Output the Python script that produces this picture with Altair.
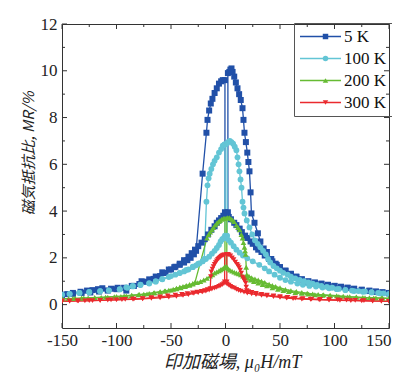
import altair as alt
import pandas as pd

TEMPS = ["5 K", "100 K", "200 K", "300 K"]
COLORS = ["#2150a8", "#63c5d5", "#66bb33", "#ea2a2e"]
SHAPES = ["square", "circle", "triangle-up", "triangle-down"]
MARKER_SIZES = [36, 30, 13, 13]

X_MAJOR = [-150, -100, -50, 0, 50, 100, 150]
X_MINOR = [-125, -75, -25, 25, 75, 125]
Y_MAJOR = [0, 2, 4, 6, 8, 10, 12]
Y_MINOR = [1, 3, 5, 7, 9, 11]

# (H [mT], MR [%]) pairs, sweep from -150 to +150
UP_5K = [(-150,0.42),(-145,0.45),(-140,0.5),(-133,0.55),(-127,0.6),(-122,0.62),(-117,0.66),(-113,0.7),(-105,0.68),(-99,0.72),(-91,0.6),(-84,0.8),(-77,1.0),(-70,1.08),(-64,1.2),(-58,1.38),(-52,1.5),(-47,1.6),(-42,1.7),(-38,1.8),(-35,1.9),(-32,2.0),(-29,2.15),(-27,2.3),(-21,5.6),(-17.5,7.35),(-16.5,7.9),(-15,8.3),(-13.5,8.6),(-12,8.8),(-10,9.05),(-8,9.25),(-6,9.45),(-4,9.55),(-2.5,9.6),(-0.5,9.6),(-0.5,3.95),(1,3.85),(3,3.75),(5,3.65),(8,3.5),(10,3.4),(13,3.25),(15,3.1),(18,2.95),(20,2.85),(23,2.7),(25,2.6),(28,2.45),(30,2.35),(33,2.25),(36,2.1),(40,1.95),(43,1.85),(47,1.7),(50,1.6),(55,1.45),(60,1.3),(65,1.18),(70,1.08),(76,0.98),(82,0.92),(88,0.88),(94,0.84),(100,0.8),(106,0.76),(112,0.72),(118,0.67),(125,0.62),(132,0.58),(138,0.55),(144,0.52),(150,0.48)]
# sweep from +150 to -150
DOWN_5K = [(150,0.5),(144,0.53),(138,0.56),(132,0.6),(125,0.64),(118,0.68),(112,0.72),(106,0.76),(100,0.8),(94,0.85),(88,0.9),(82,0.95),(76,1.0),(70,1.08),(65,1.2),(60,1.32),(55,1.45),(50,1.6),(46,1.75),(42,1.95),(38,2.25),(35,2.4),(32,2.7),(29.7,3.05),(26.6,3.5),(23.8,3.9),(23,4.8),(22,5.7),(21,6.1),(20,6.5),(18.7,6.95),(17.4,7.35),(16.5,7.9),(15.6,8.4),(14,8.75),(12.5,9.0),(11,9.25),(9.5,9.5),(8,9.75),(6.5,9.95),(5.5,10.1),(4.5,10.05),(3.5,9.95),(2.2,9.9),(2.2,3.95),(0,3.9),(-2,3.8),(-4,3.7),(-6,3.6),(-8,3.5),(-10,3.35),(-13,3.2),(-16,3.0),(-19,2.8),(-22,2.65),(-25,2.5),(-28,2.35),(-31,2.2),(-34,2.05),(-38,1.9),(-42,1.75),(-46,1.62),(-50,1.5),(-55,1.35),(-60,1.22),(-66,1.1),(-72,0.98),(-79,0.88),(-86,0.8),(-93,0.72),(-100,0.66),(-108,0.6),(-116,0.56),(-124,0.52),(-132,0.5),(-140,0.46),(-150,0.42)]

UP_100K = [(-150,0.42),(-143,0.45),(-134,0.5),(-125,0.53),(-115,0.57),(-107,0.6),(-97,0.65),(-90,0.72),(-85,0.78),(-78,0.84),(-70,0.9),(-64,0.98),(-58,1.08),(-52,1.18),(-46,1.28),(-42,1.35),(-38,1.42),(-34,1.5),(-30,1.6),(-27,1.68),(-24,1.76),(-21,1.85),(-19.5,1.95),(-17.5,4.4),(-16.5,5.1),(-15.5,5.4),(-14.5,5.6),(-13,5.8),(-11.5,6.0),(-10,6.15),(-8,6.3),(-6,6.5),(-4,6.65),(-2.5,6.8),(-1,6.85),(-0.5,6.85),(-0.5,2.95),(1,2.85),(3,2.75),(5,2.65),(7.5,2.5),(10,2.35),(13,2.22),(16,2.1),(20,1.98),(25,1.85),(31,1.7),(36,1.55),(40,1.42),(45,1.28),(50,1.15),(55,1.05),(60,0.98),(66,0.9),(71,0.85),(77,0.8),(83,0.77),(89,0.73),(95,0.7),(102,0.66),(110,0.62),(118,0.58),(126,0.55),(134,0.52),(142,0.48),(150,0.45)]
DOWN_100K = [(150,0.45),(145,0.48),(140,0.5),(134,0.53),(128,0.56),(122,0.58),(116,0.6),(110,0.63),(104,0.67),(98,0.72),(93,0.76),(88,0.8),(84,0.84),(80,0.9),(76,0.95),(72,1.0),(68,1.06),(64,1.12),(60,1.2),(57,1.28),(53,1.36),(50,1.45),(47,1.55),(44,1.65),(41,1.8),(39,1.95),(37,2.15),(34.5,2.3),(32,2.45),(29.5,2.6),(27,2.75),(24.5,3.0),(22,3.3),(19.5,3.6),(17.4,3.9),(16.5,4.15),(15.6,4.4),(14.7,5.0),(13.8,5.35),(12.8,5.7),(12,6.0),(11,6.3),(10,6.6),(8.5,6.75),(7,6.88),(5.5,6.95),(4,7.0),(2.8,6.97),(1.5,6.9),(1.5,2.95),(0,2.9),(-1.5,2.85),(-3,2.8),(-4.5,2.7),(-6,2.55),(-8,2.42),(-10,2.3),(-12.5,2.18),(-15,2.05),(-18,1.95),(-21,1.85),(-25,1.75),(-30,1.62),(-36,1.48),(-42,1.36),(-50,1.22),(-58,1.1),(-64,1.0),(-70,0.92),(-78,0.85),(-85,0.8),(-91,0.74),(-97,0.66),(-107,0.61),(-115,0.58),(-125,0.54),(-134,0.5),(-143,0.46),(-150,0.43)]

UP_200K = [(-150,0.25),(-144,0.26),(-138,0.27),(-132,0.28),(-126,0.29),(-120,0.3),(-114,0.31),(-108,0.32),(-102,0.34),(-96,0.35),(-91,0.37),(-86,0.39),(-80,0.42),(-75,0.45),(-70,0.48),(-65,0.51),(-60,0.55),(-56,0.58),(-52,0.62),(-48,0.66),(-45,0.7),(-42,0.74),(-39,0.78),(-36,0.82),(-33,0.86),(-30,0.9),(-28,0.95),(-17,2.85),(-15.5,3.0),(-14,3.1),(-12.5,3.2),(-11,3.3),(-9.5,3.4),(-8,3.48),(-6.5,3.55),(-5,3.6),(-3.5,3.65),(-2,3.68),(-0.5,3.7),(-0.5,1.62),(1,1.58),(2.5,1.53),(4,1.48),(6,1.43),(8,1.39),(10,1.35),(12,1.32),(14,1.28),(16,1.22),(18,1.17),(20,1.12),(23,1.05),(26,0.99),(30,0.92),(34,0.86),(38,0.8),(43,0.72),(48,0.66),(53,0.6),(58,0.56),(64,0.52),(70,0.48),(76,0.45),(82,0.42),(89,0.4),(96,0.38),(104,0.35),(112,0.33),(120,0.31),(128,0.3),(136,0.29),(143,0.28),(150,0.27)]
DOWN_200K = [(150,0.27),(144,0.28),(138,0.29),(132,0.3),(126,0.31),(120,0.33),(114,0.34),(108,0.36),(102,0.38),(96,0.4),(90,0.42),(85,0.44),(80,0.46),(75,0.49),(70,0.52),(65,0.56),(60,0.6),(55,0.65),(50,0.72),(46,0.78),(43,0.82),(40,0.87),(36,0.95),(33,1.0),(30,1.05),(27,1.1),(24,1.15),(21.5,1.22),(19.5,1.28),(19,1.6),(18.5,2.15),(18,2.3),(17.4,2.45),(16.5,2.65),(15.6,2.85),(14.5,3.0),(13,3.2),(11.5,3.3),(10,3.4),(8,3.55),(6.5,3.62),(5,3.67),(3.5,3.72),(2,3.72),(1.2,3.7),(1.2,1.62),(0,1.6),(-1.5,1.57),(-3,1.53),(-4.5,1.49),(-6,1.45),(-8,1.4),(-10,1.35),(-12,1.28),(-14,1.22),(-17,1.12),(-20,1.05),(-23,0.99),(-26,0.94),(-30,0.88),(-33,0.83),(-37,0.77),(-41,0.72),(-45,0.68),(-50,0.62),(-55,0.58),(-60,0.54),(-66,0.5),(-72,0.46),(-79,0.43),(-86,0.4),(-93,0.37),(-100,0.35),(-110,0.32),(-120,0.3),(-130,0.28),(-140,0.26),(-150,0.25)]

UP_300K = [(-150,0.15),(-143,0.15),(-136,0.16),(-129,0.16),(-122,0.17),(-115,0.18),(-108,0.19),(-100,0.2),(-92,0.22),(-84,0.24),(-76,0.26),(-68,0.3),(-60,0.33),(-53,0.37),(-46,0.41),(-40,0.44),(-35,0.47),(-30,0.5),(-26,0.53),(-22,0.57),(-19,0.6),(-16.5,0.64),(-14,0.68),(-13.5,1.2),(-13,1.4),(-12,1.52),(-11,1.62),(-10,1.72),(-9,1.8),(-8,1.87),(-7,1.93),(-6,1.98),(-5,2.02),(-4,2.06),(-3,2.1),(-2,2.12),(-0.8,2.13),(-0.8,0.97),(0.5,0.93),(1.5,0.88),(3,0.83),(4.5,0.78),(6,0.74),(8,0.7),(10,0.65),(12,0.61),(14,0.58),(17,0.53),(20,0.49),(24,0.46),(28,0.43),(33,0.4),(38,0.37),(44,0.34),(50,0.31),(56,0.28),(62,0.26),(70,0.24),(78,0.22),(86,0.2),(95,0.19),(105,0.18),(115,0.17),(125,0.16),(135,0.15),(143,0.15),(150,0.14)]
DOWN_300K = [(150,0.14),(143,0.15),(135,0.16),(127,0.17),(119,0.18),(111,0.19),(103,0.2),(95,0.21),(87,0.22),(79,0.24),(71,0.26),(64,0.28),(57,0.31),(50,0.34),(44,0.37),(38,0.41),(33,0.44),(28,0.48),(24,0.52),(21,0.56),(19.5,0.6),(19,0.75),(18.5,0.92),(17.4,1.02),(16.5,1.1),(15.6,1.18),(14.5,1.35),(13.5,1.48),(12.5,1.58),(11.5,1.66),(10.5,1.72),(9,1.82),(7.5,1.92),(6,2.0),(4.5,2.08),(3,2.13),(2,2.15),(1.2,2.15),(1.2,0.97),(0,0.95),(-1.5,0.9),(-3,0.85),(-4.5,0.81),(-6,0.78),(-8,0.74),(-10,0.7),(-12.5,0.66),(-15,0.62),(-18,0.58),(-21,0.55),(-25,0.51),(-29,0.48),(-34,0.43),(-39,0.39),(-45,0.35),(-52,0.32),(-60,0.29),(-68,0.27),(-76,0.25),(-85,0.23),(-95,0.21),(-105,0.2),(-115,0.18),(-125,0.17),(-135,0.16),(-143,0.15),(-150,0.15)]

BRANCHES = [
    ("5 K", "up", UP_5K), ("5 K", "down", DOWN_5K),
    ("100 K", "up", UP_100K), ("100 K", "down", DOWN_100K),
    ("200 K", "up", UP_200K), ("200 K", "down", DOWN_200K),
    ("300 K", "up", UP_300K), ("300 K", "down", DOWN_300K),
]

rows = []
for t, b, pts in BRANCHES:
    for i, (h, mr) in enumerate(pts):
        rows.append({"T": t, "branch": t + " " + b, "i": i, "H": h, "MR": mr})
df = pd.DataFrame(rows)

W, HT = 327, 304
SERIF = "Liberation Serif, Times New Roman, serif"
FRAME = "#333333"

xs = alt.Scale(domain=[-150, 150], nice=False, zero=False)
ys = alt.Scale(domain=[-1, 12], nice=False, zero=False)
cs = alt.Scale(domain=TEMPS, range=COLORS)
ss = alt.Scale(domain=TEMPS, range=SHAPES)
szs = alt.Scale(domain=TEMPS, range=MARKER_SIZES)

x_axis = alt.Axis(
    values=X_MAJOR, ticks=False, domain=False, grid=False, labelFlush=False,
    labelFont=SERIF, labelFontSize=17, labelColor="#222", labelPadding=4,
    labelExpr="'' + datum.value",
    labelAlign=alt.ExprRef(expr="datum.value == 150 ? 'right' : 'center'"),
    labelOffset=alt.ExprRef(expr="datum.value == 150 ? 2 : 0"),
    title="印加磁場, μ₀H/mT", titleFont="Liberation Serif, Noto Sans CJK JP, serif",
    titleFontSize=18, titleFontStyle="italic", titleFontWeight="normal",
    titleColor="#222", titleX=170, titleY=25, titleAlign="center", titleBaseline="top",
)
y_axis = alt.Axis(
    values=Y_MAJOR, ticks=False, domain=False, grid=False, labelFlush=False,
    labelFont=SERIF, labelFontSize=17, labelColor="#222", labelPadding=5,
    title="磁気抵抗比, MR/%", titleFont="Noto Sans CJK JP",
    titleFontSize=15, titleFontStyle="italic", titleFontWeight="normal",
    titleColor="#222", titleX=-34, titleY=129, titleAlign="center", titleBaseline="middle",
    titleAngle=270,
)

lines = alt.Chart(df).mark_line(strokeWidth=1.3, clip=True).encode(
    x=alt.X("H:Q", scale=xs, axis=x_axis),
    y=alt.Y("MR:Q", scale=ys, axis=y_axis),
    color=alt.Color("T:N", scale=cs, legend=alt.Legend(
        title=None, orient="none", legendX=232, legendY=-1,
        symbolType="stroke", symbolSize=1681, symbolStrokeWidth=1.6,
        clipHeight=17,
        labelFont=SERIF, labelFontSize=17, labelColor="#111", labelOffset=2,
        padding=5, rowPadding=4, strokeColor="#555555",
    )),
    detail="branch:N",
    order="i:Q",
)

# marker-only legend laid over the line legend so each entry shows line + marker
pt_legend = alt.Legend(
    title=None, orient="none", legendX=232, legendY=-1,
    symbolSize=30, symbolStrokeWidth=0, symbolOffset=18, clipHeight=17,
    labelFont=SERIF, labelFontSize=17, labelExpr="''", labelOffset=2,
    padding=5, rowPadding=4,
)
points = alt.Chart(df).mark_point(filled=True, clip=True, opacity=1).encode(
    x=alt.X("H:Q", scale=xs),
    y=alt.Y("MR:Q", scale=ys),
    color=alt.Color("T:N", scale=cs, legend=pt_legend),
    shape=alt.Shape("T:N", scale=ss, legend=pt_legend),
    size=alt.Size("T:N", scale=szs, legend=None),
)


def xticks(vals, length, top):
    d = pd.DataFrame({"v": vals})
    if top:
        yy, yy2 = alt.value(0), alt.value(length)
    else:
        yy, yy2 = alt.value(HT), alt.value(HT - length)
    return alt.Chart(d).mark_rule(color=FRAME, strokeWidth=1).encode(
        x=alt.X("v:Q", scale=xs), y=yy, y2=yy2)


def yticks(vals, length, right):
    d = pd.DataFrame({"v": vals})
    if right:
        xx, xx2 = alt.value(W), alt.value(W - length)
    else:
        xx, xx2 = alt.value(0), alt.value(length)
    return alt.Chart(d).mark_rule(color=FRAME, strokeWidth=1).encode(
        y=alt.Y("v:Q", scale=ys), x=xx, x2=xx2)


tick_layers = [
    xticks(X_MAJOR, 5, False), xticks(X_MINOR, 3, False),
    xticks(X_MAJOR, 5, True), xticks(X_MINOR, 3, True),
    yticks(Y_MAJOR, 5, False), yticks(Y_MINOR, 3, False),
    yticks(Y_MAJOR, 5, True), yticks(Y_MINOR, 3, True),
]

chart = alt.layer(lines, points, *tick_layers).resolve_legend(
    color="independent", shape="independent"
).properties(
    width=W, height=HT,
    autosize=alt.AutoSizeParams(type="none"),
    padding={"left": 54, "top": 16, "right": 3, "bottom": 45},
).configure_view(stroke=FRAME, strokeWidth=1)

chart.save("out.html", embed_options={"renderer": "svg", "actions": False})
